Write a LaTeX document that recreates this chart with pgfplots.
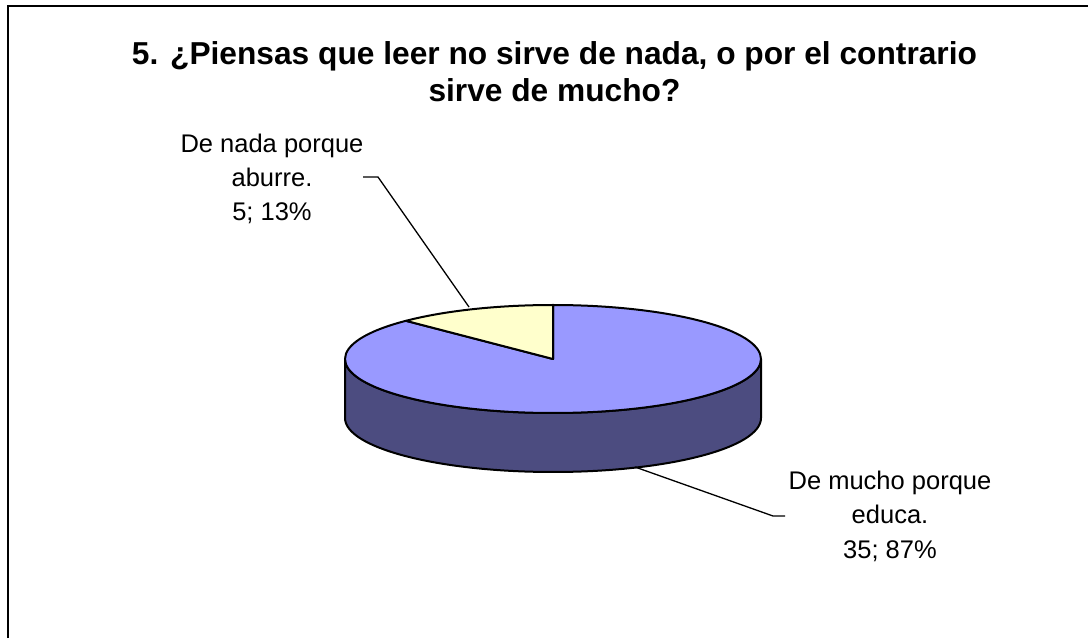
\documentclass[border=0pt]{standalone}
\usepackage{pgfplots}
\pgfplotsset{compat=1.18}
\usepackage{pgfplotstable}
\usepackage{fontspec}
\setmainfont{Liberation Sans}
\definecolor{pieblue}{RGB}{153,153,255}
\definecolor{pieside}{RGB}{76,76,128}
\definecolor{pieyellow}{RGB}{255,255,204}

\pgfplotstableread{
label value
nada 5
mucho 35
}\piedata

\begin{document}
\begin{tikzpicture}
\pgfplotstablegetelem{0}{value}\of\piedata \let\va\pgfplotsretval
\pgfplotstablegetelem{1}{value}\of\piedata \let\vb\pgfplotsretval
\pgfmathsetmacro\angA{90+360*\va/(\va+\vb)}
\pgfmathsetmacro\angB{90+360}
\pgfmathsetmacro\px{553+208*cos(\angA)}
\pgfmathsetmacro\py{279+54*sin(\angA)}
\begin{axis}[hide axis, scale only axis, width=1088pt, height=638pt,
  xmin=0, xmax=1088, ymin=0, ymax=638, clip=false]
\coordinate (bl) at (axis cs:0,0);
\coordinate (tr) at (axis cs:1088,638);
% side of the pie (front half)
\fill[pieside, draw=black, line width=2pt, line join=round]
  (axis cs:345,279) -- (axis cs:345,220)
  arc[start angle=180, end angle=360, x radius=208, y radius=54]
  -- (axis cs:761,279)
  arc[start angle=0, end angle=-180, x radius=208, y radius=54] -- cycle;
% top: blue slice
\filldraw[fill=pieblue, draw=black, line width=2pt, line join=round]
  (axis cs:553,279) -- (axis cs:\px,\py)
  arc[start angle=\angA, end angle=\angB, x radius=208, y radius=54] -- cycle;
% top: yellow slice
\filldraw[fill=pieyellow, draw=black, line width=2pt, line join=round]
  (axis cs:553,279) -- (axis cs:553,333)
  arc[start angle=90, end angle=\angA, x radius=208, y radius=54] -- cycle;
% leader lines
\draw[black, line width=1.3pt] (axis cs:363,461) -- (axis cs:378,461) -- (axis cs:469,331);
\draw[black, line width=1.3pt] (axis cs:635,171) -- (axis cs:773,122) -- (axis cs:785,122);
% title
\node[anchor=base, font=\bfseries\fontsize{31.7pt}{37pt}\selectfont, inner sep=0pt]
  at (axis cs:554.5,573) {5. ¿Piensas que leer no sirve de nada, o por el contrario};
\node[anchor=base, font=\bfseries\fontsize{31.7pt}{37pt}\selectfont, inner sep=0pt]
  at (axis cs:554.5,536) {sirve de mucho?};
% labels
\tikzset{lbl/.style={anchor=base, font=\fontsize{25.5pt}{30pt}\selectfont, inner sep=0pt}}
\node[lbl] at (axis cs:272,485) {De nada porque};
\node[lbl] at (axis cs:272,451) {aburre.};
\node[lbl] at (axis cs:272,417) {5; 13\%};
\node[lbl] at (axis cs:890,148) {De mucho porque};
\node[lbl] at (axis cs:890,114) {educa.};
\node[lbl] at (axis cs:890,80) {35; 87\%};
% frame
\draw[black, line width=2.5pt] (axis cs:8,0) -- (axis cs:8,632) -- (axis cs:1088,632);
\end{axis}
\pgfresetboundingbox
\useasboundingbox (bl) rectangle (tr);
\end{tikzpicture}
\end{document}
